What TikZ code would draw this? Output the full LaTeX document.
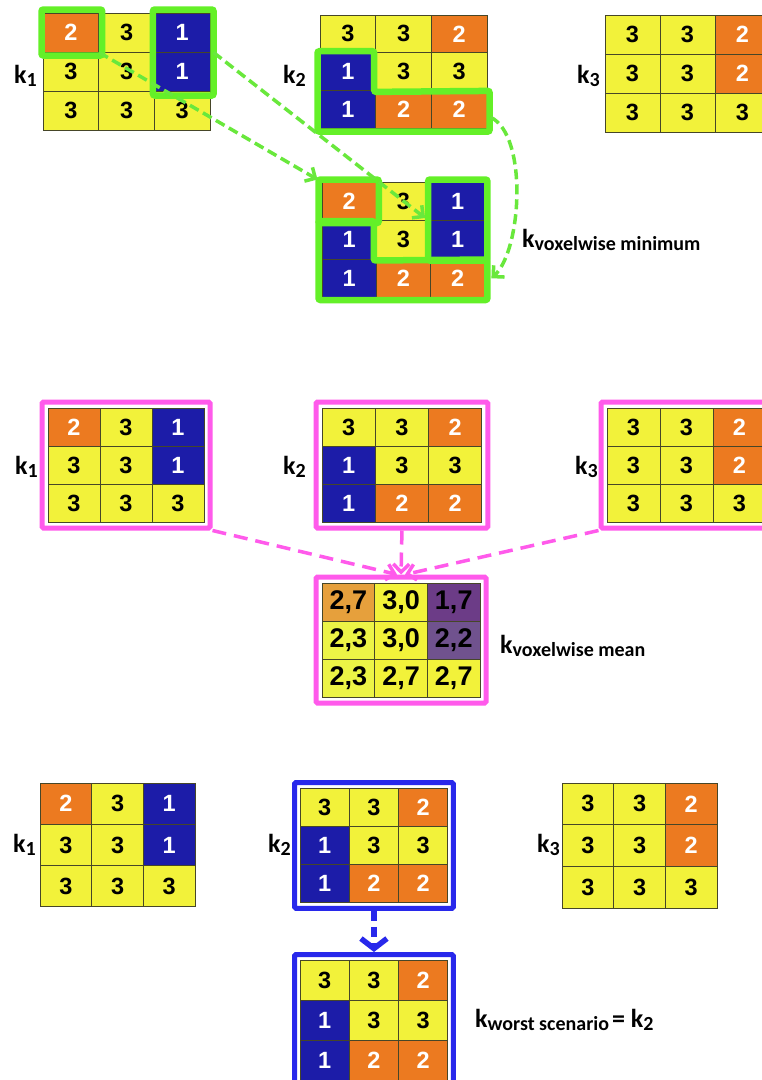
\documentclass[tikz,border=0pt]{standalone}
\usepackage{fontspec}
\newfontfamily\digf{Liberation Sans}
\newfontfamily\labf{Carlito}
\usetikzlibrary{arrows.meta,fit}
\definecolor{fillY}{RGB}{242,242,58}
\definecolor{fillL}{RGB}{236,244,70}
\definecolor{fillO}{RGB}{236,122,32}
\definecolor{fillB}{RGB}{28,28,168}
\definecolor{fillM}{RGB}{230,160,60}
\definecolor{fillP}{RGB}{108,60,135}
\definecolor{fillQ}{RGB}{112,82,142}
\definecolor{txtY}{RGB}{0,0,0}
\definecolor{txtL}{RGB}{0,0,0}
\definecolor{txtM}{RGB}{0,0,0}
\definecolor{txtP}{RGB}{0,0,0}
\definecolor{txtQ}{RGB}{0,0,0}
\definecolor{txtO}{RGB}{255,255,255}
\definecolor{txtB}{RGB}{255,255,255}
\definecolor{gridc}{RGB}{70,70,40}
\definecolor{gframec}{RGB}{100,240,40}
\definecolor{gdashc}{RGB}{105,232,60}
\definecolor{mframec}{RGB}{255,90,235}
\definecolor{bframec}{RGB}{40,40,235}
\newcommand\kgrid[7][]{%
  \foreach \ri/\ci/\kk/\vv in #7{%
    \node[cellbox,#1,minimum width=#5,minimum height=#6,fill=fill\kk,text=txt\kk]
      (#2\ri\ci) at ({#3+(\ci+0.5)*#5},{#4+(\ri+0.5)*#6}) {\vv};
  }%
}
\newcommand\klab[2]{{\fontsize{26}{26}\selectfont k}\raisebox{-3pt}{\fontsize{20}{20}\selectfont #1}#2}
\def\Kone{0/0/O/2,0/1/Y/3,0/2/B/1,1/0/Y/3,1/1/Y/3,1/2/B/1,2/0/Y/3,2/1/Y/3,2/2/Y/3}
\def\Ktwo{0/0/Y/3,0/1/Y/3,0/2/O/2,1/0/B/1,1/1/Y/3,1/2/Y/3,2/0/B/1,2/1/O/2,2/2/O/2}
\def\Kthree{0/0/Y/3,0/1/Y/3,0/2/O/2,1/0/Y/3,1/1/Y/3,1/2/O/2,2/0/Y/3,2/1/Y/3,2/2/Y/3}
\def\Kmin{0/0/O/2,0/1/Y/3,0/2/B/1,1/0/B/1,1/1/Y/3,1/2/B/1,2/0/B/1,2/1/O/2,2/2/O/2}
\def\Kmean{0/0/M/{2,7},0/1/Y/{3,0},0/2/P/{1,7},1/0/L/{2,3},1/1/Y/{3,0},1/2/Q/{2,2},2/0/L/{2,3},2/1/Y/{2,7},2/2/Y/{2,7}}
\begin{document}
\begin{tikzpicture}[x=1pt,y=-1pt,
  cellbox/.style={draw=gridc,line width=1pt,inner sep=0pt,font=\digf\bfseries\fontsize{23.5}{23.5}\selectfont},
  meanfont/.style={font=\digf\bfseries\fontsize{27}{27}\selectfont},
  lab/.style={font=\labf\bfseries,inner sep=0pt,anchor=base west},
  gframe/.style={draw=gframec,line width=6.5pt,rounded corners=2pt},
  gdash/.style={draw=gdashc,line width=3.5pt,dash pattern=on 10pt off 5pt,-{Straight Barb[length=8pt,width=16pt]}},
  mframe/.style={draw=mframec,line width=5pt,rounded corners=1.5pt,inner sep=5.5pt},
  mdash/.style={draw=mframec,line width=3.5pt,dash pattern=on 14pt off 8pt,-{Straight Barb[length=8pt,width=16pt]}},
  bframe/.style={draw=bframec,line width=5pt,rounded corners=1.5pt,inner sep=5pt},
  bdash/.style={draw=bframec,line width=5.5pt,dash pattern=on 10pt off 6pt,-{Straight Barb[length=10pt,width=26pt]}}
]
\useasboundingbox (0,0) rectangle (762,1080);
\fill[white] (0,0) rectangle (762,1080);
\clip (0,0) rectangle (762,1080);

% ---------- top: voxelwise minimum ----------
\kgrid{T1c}{43}{13}{55.7}{39}{\Kone}
\kgrid{T2c}{320}{15}{55.7}{37.7}{\Ktwo}
\kgrid{T3c}{605}{15}{55}{39}{\Kthree}
\kgrid{Mc}{322}{182}{54.3}{38.5}{\Kmin}

\node[lab] (LT1) at (14,83) {\klab{1}{}};
\node[lab] (LT2) at (283,83) {\klab{2}{}};
\node[lab] (LT3) at (577,83) {\klab{3}{}};
\node[lab] (LMin) at (522,247) {\klab{voxelwise minimum}{}};

\draw[gframe] ([shift={(-1,-3)}]T1c00.north west) rectangle ([shift={(3,3)}]T1c00.south east);
\draw[gframe] ([shift={(-1,-3)}]T1c02.north west) rectangle ([shift={(3,4)}]T1c12.south east);
\draw[gframe] ([shift={(-2,-1)}]T2c10.north west) -- ([shift={(-2,-1)}]T2c10.north east)
  -- ([shift={(-2,1)}]T2c10.south east) -- ([shift={(2,1)}]T2c22.north east)
  -- ([shift={(2,3)}]T2c22.south east) -- ([shift={(-2,3)}]T2c20.south west) -- cycle;
\draw[gframe] ([shift={(-3,-2)}]Mc00.north west) rectangle ([shift={(2,2)}]Mc00.south east);
\draw[gframe] ([shift={(-2,-2)}]Mc02.north west) rectangle ([shift={(2,1)}]Mc12.south east);
\draw[gframe] ([shift={(-3,1)}]Mc10.north west) -- ([shift={(-3,1)}]Mc10.north east)
  -- ([shift={(-3,1)}]Mc10.south east) -- ([shift={(2,1)}]Mc22.north east)
  -- ([shift={(2,2)}]Mc22.south east) -- ([shift={(-3,2)}]Mc20.south west) -- cycle;

\draw[gdash] (T1c00.south east) -- ([shift={(-4,-2)}]Mc00.north west);
\draw[gdash] ([shift={(3,0)}]T1c02.south east) -- ([shift={(-5,-3)}]Mc02.south west);
\draw[gdash] ([shift={(3,8)}]T2c22.east) .. controls (528,135) and (522,250) .. ([shift={(6,0)}]Mc22.east);

% ---------- middle: voxelwise mean ----------
\kgrid{P1c}{48}{408}{52}{38}{\Kone}
\kgrid{P2c}{322}{408}{53.3}{38}{\Ktwo}
\kgrid{P3c}{607}{408}{53}{38}{\Kthree}
\kgrid[meanfont]{Ac}{322}{583}{52.7}{38}{\Kmean}

\node[mframe,fit=(P1c00)(P1c22)] (P1f) {};
\node[mframe,fit=(P2c00)(P2c22)] (P2f) {};
\node[mframe,fit=(P3c00)(P3c22)] (P3f) {};
\node[mframe,fit=(Ac00)(Ac22)] (Af) {};

\node[lab] (LP1) at (15,474) {\klab{1}{}};
\node[lab] (LP2) at (283,474) {\klab{2}{}};
\node[lab] (LP3) at (575,474) {\klab{3}{}};
\node[lab] (LMean) at (500,653) {\klab{voxelwise mean}{}};

\draw[mdash] (P1f.south east) -- ([shift={(-4,0)}]Af.north);
\draw[mdash] (P3f.south west) -- ([shift={(4,0)}]Af.north);
\draw[mdash] (P2f.south) -- (Af.north);

% ---------- bottom: worst scenario ----------
\kgrid{B1c}{40}{783}{51.7}{41.3}{\Kone}
\kgrid{B2c}{300}{788}{49.3}{38.3}{\Ktwo}
\kgrid{B3c}{562}{783}{51.7}{41.7}{\Kthree}
\kgrid{Wc}{300}{960}{49.3}{40}{\Ktwo}

\node[bframe,fit=(B2c00)(B2c22)] (B2f) {};
\node[bframe,fit=(Wc00)(Wc22)] (Wf) {};

\node[lab] (LB1) at (13,852) {\klab{1}{}};
\node[lab] (LB2) at (268,852) {\klab{2}{}};
\node[lab] (LB3) at (537,852) {\klab{3}{}};
\node[lab] (LW) at (475,1027) {\klab{worst scenario}{\hspace{3pt}{\fontsize{26}{26}\selectfont= k}\raisebox{-3pt}{\fontsize{20}{20}\selectfont 2}}};

\draw[bdash] (B2f.south) -- (Wf.north);
\end{tikzpicture}
\end{document}
